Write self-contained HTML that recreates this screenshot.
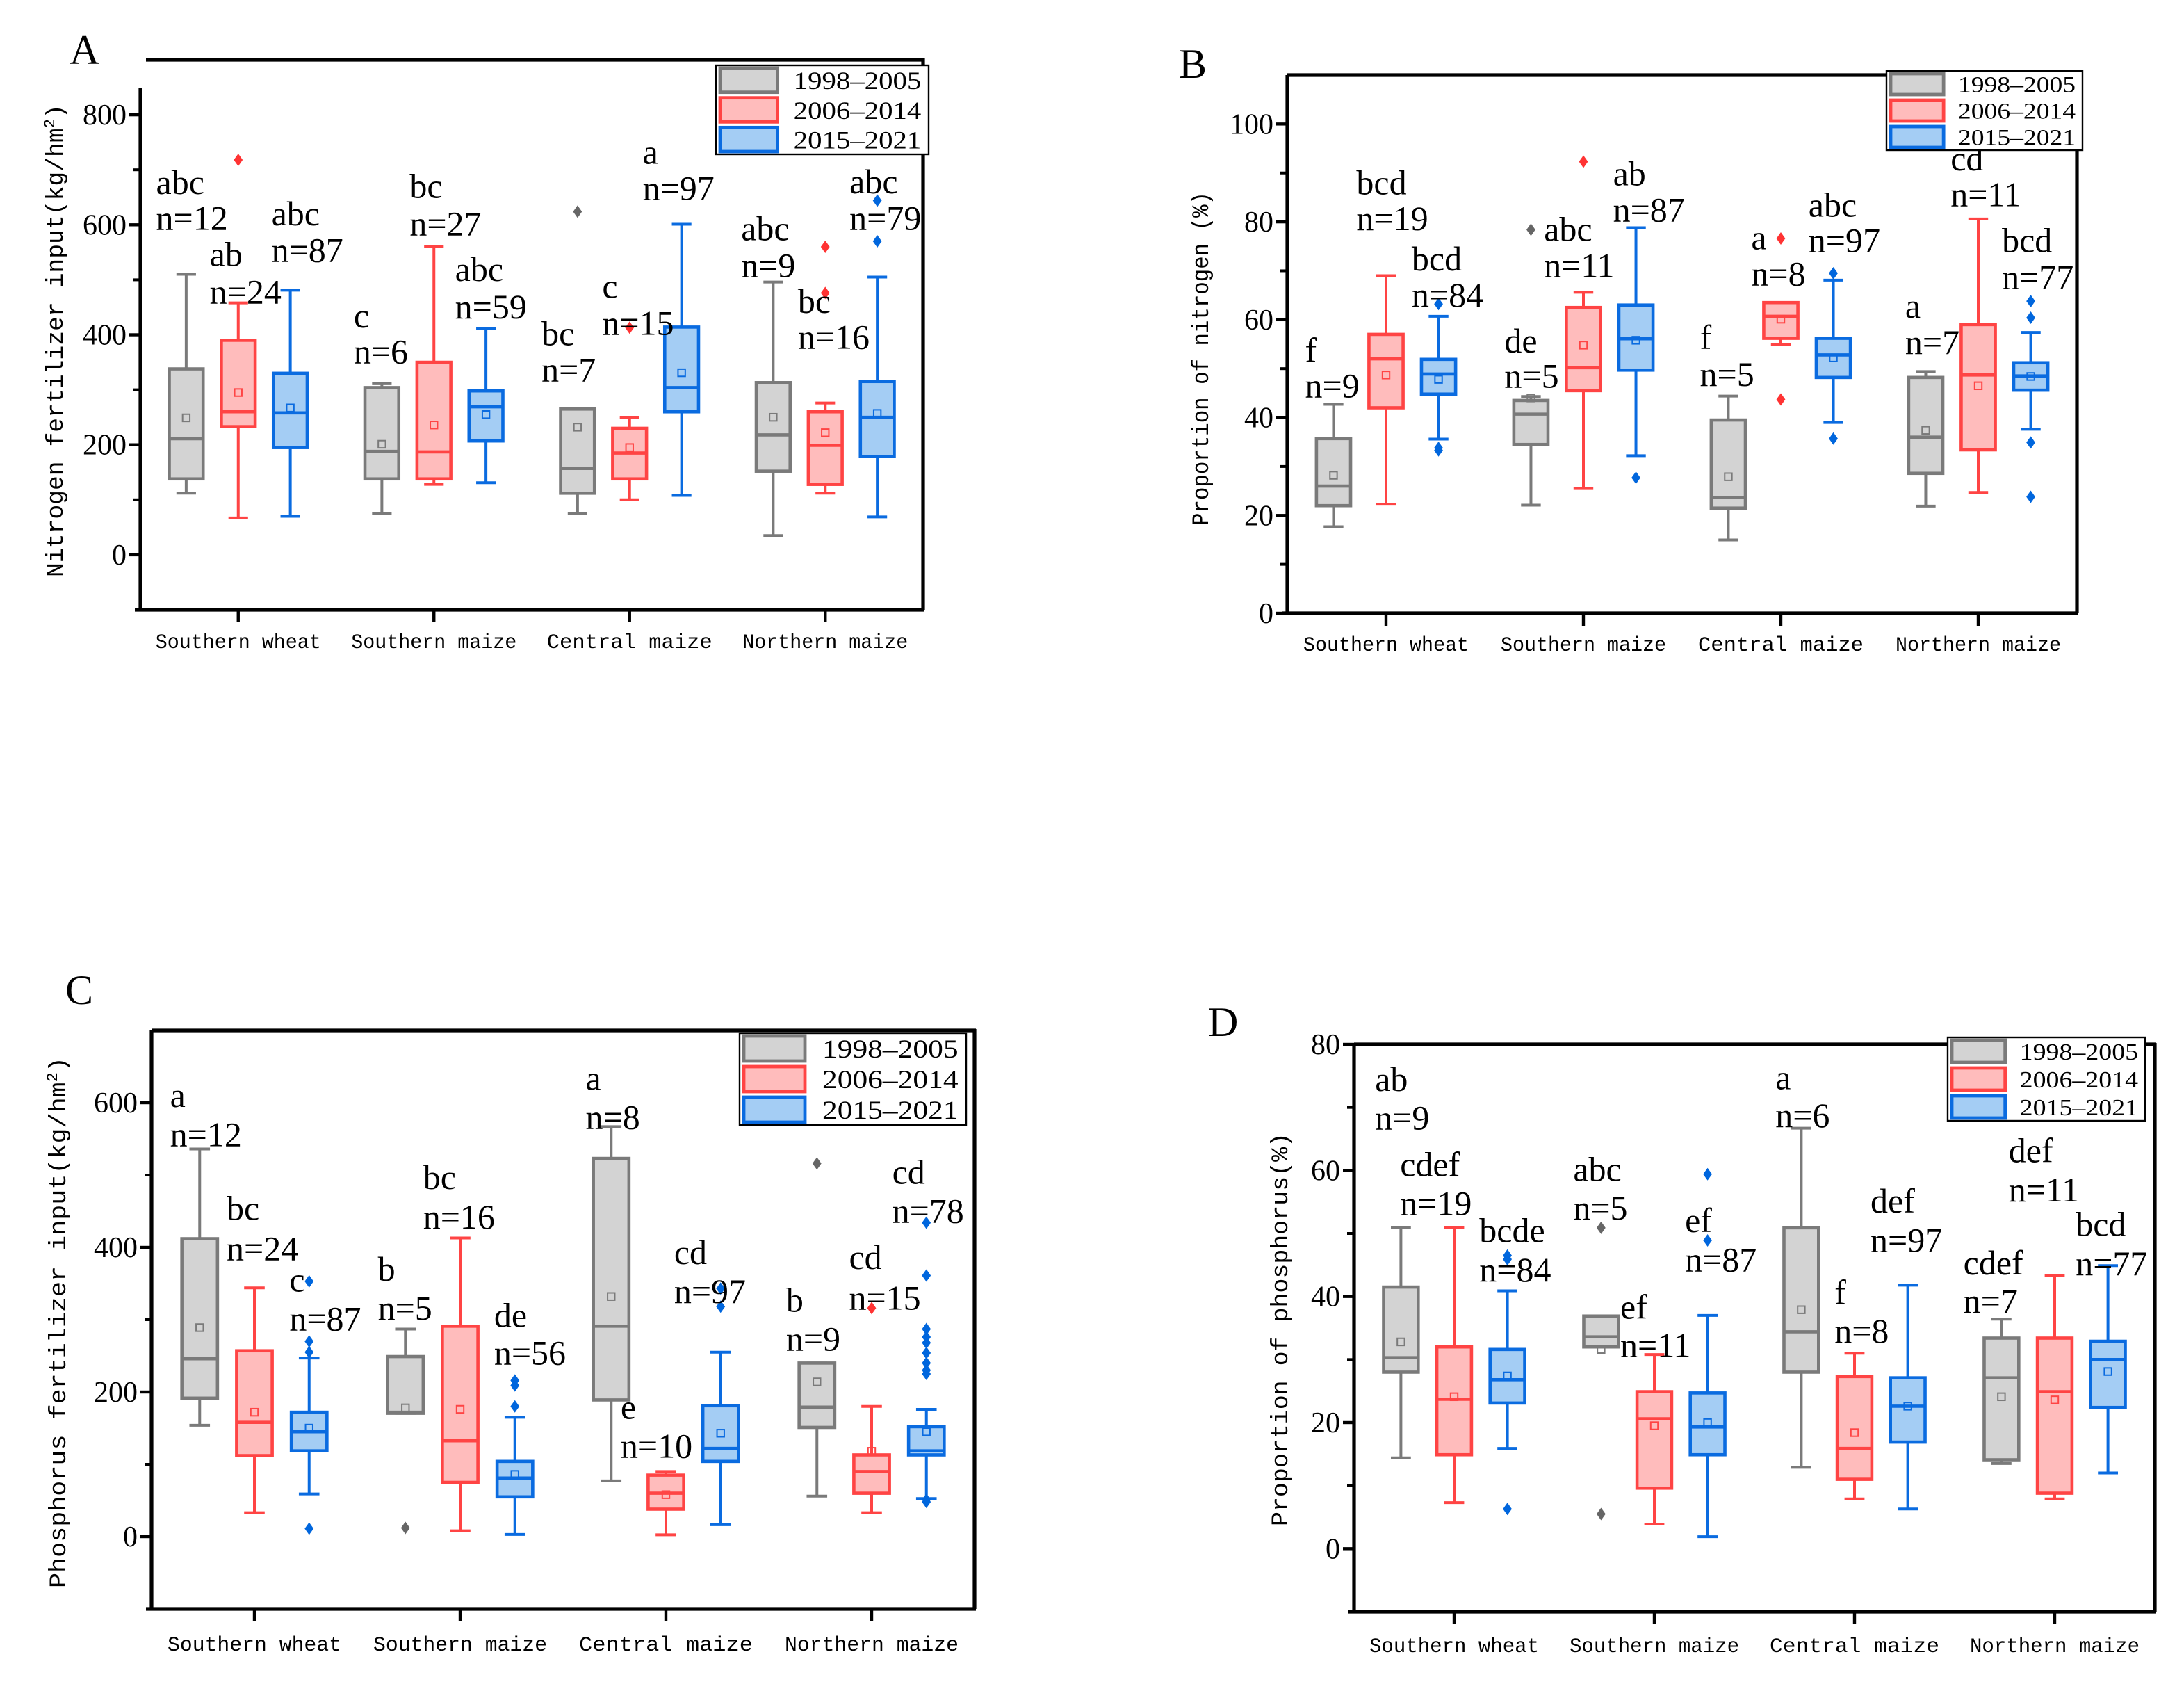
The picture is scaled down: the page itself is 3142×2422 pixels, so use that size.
<!DOCTYPE html>
<html><head><meta charset="utf-8"><style>
html,body{margin:0;padding:0;background:#fff;}
svg{display:block;}
text{font-family:"Liberation Serif",serif;fill:#000;}
.mono{font-family:"Liberation Mono",monospace;}
</style></head><body>
<svg id="fig" xmlns="http://www.w3.org/2000/svg" width="3142" height="2422" viewBox="0 0 1571 1211">
<rect x="0" y="0" width="1571" height="1211" fill="#fff"/>
</svg>
<script>
// ---------- data ----------
const categories = ["Southern wheat","Southern maize","Central maize","Northern maize"];
const seriesNames = ["1998-2005","2006-2014","2015-2021"];
// stats rows: [min, q1, median, q3, max, mean]
const A_gray = [[112,138,211,338,510,249],[75,138,188,304,311,201],[75,112,157,265,265,232],[35,152,218,313,496,250]];
const A_red  = [[67,233,260,390,458,295],[128,138,187,350,561,236],[100,138,185,230,249,195],[112,128,199,260,276,222]];
const A_blue = [[70,195,258,330,481,267],[131,207,269,298,411,255],[108,260,304,414,601,331],[69,179,250,315,505,257]];
const A_grayOut = [[],[],[624],[]];
const A_redOut  = [[718],[],[413],[560,476]];
const A_blueOut = [[],[],[],[644,570]];
const A_letters = ["abc","ab","abc","c","bc","abc","bc","c","a","abc","bc","abc"];
const A_counts  = [12,24,87,6,27,59,7,15,97,9,16,79];
const A_labelDx = [-0.42,-0.146,0.17,-0.41,-0.124,0.108,-0.45,-0.14,0.067,-0.43,-0.14,0.124];
const A_letterY = [656,525,599,413,649,498,381,467,711,572,440,657];
const A_countY  = [591,457,533,348,581,430,315,400,645,505,375,591];
const A_ticks = [0,200,400,600,800];
const A_minor = [100,300,500,700];

const B_gray = [[17.7,22,26,35.7,42.7,28.2],[22.1,34.5,40.7,43.5,44.3,44],[15,21.5,23.7,39.5,44.4,27.9],[21.9,28.6,36,48.2,49.4,37.4]];
const B_red  = [[22.3,42,52,57,69,48.7],[25.5,45.5,50.2,62.5,65.6,54.8],[55,56.2,60.7,63.5,63.5,60.1],[24.7,33.4,48.7,59,80.6,46.5]];
const B_blue = [[35.6,44.8,48.9,51.9,60.7,47.8],[32.2,49.7,56.1,63,78.8,55.8],[39,48.2,52.8,56.2,68.1,52.2],[37.6,45.6,48.5,51.2,57.4,48.4]];
const B_grayOut = [[],[78.4],[],[]];
const B_redOut  = [[],[92.3],[76.6,43.7],[]];
const B_blueOut = [[63.2,33.8,33.3],[27.7],[69.5,35.7],[63.8,60.4,34.9,23.8]];
const B_letters = ["f","bcd","bcd","de","abc","ab","f","a","abc","a","cd","bcd"];
const B_counts  = [9,19,84,5,11,87,5,8,97,7,11,77];
const B_labelDx = [-0.41,-0.15,0.13,-0.40,-0.2,0.15,-0.41,-0.15,0.14,-0.37,-0.14,0.12];
const B_letterY = [51.4,85.6,70.1,53.3,76.1,87.5,54,74.4,81.1,60.4,90.5,73.8];
const B_countY  = [44.1,78.3,62.7,46.1,68.7,80.1,46.5,67,73.8,53,83.2,66.3];
const B_ticks = [0,20,40,60,80,100];
const B_minor = [10,30,50,70,90];

const C_gray = [[154,191.5,246,412,536,289],[170.6,170.6,172,249,287,178],[77,189,291,523,567,332],[56,151,179,240,240,214]];
const C_red  = [[33,112,158,257,344,172],[8,75,132.5,291,413,176],[2.5,38,60,85,90,58],[33,60,90,113,180,118]];
const C_blue = [[59,118.6,145,172,247,150],[3,55,81,104,165,86],[16.5,104,122,181,255,143],[52.6,113,118.6,152,176,145]];
const C_grayOut = [[],[12],[],[516]];
const C_redOut  = [[],[],[],[316]];
const C_blueOut = [[353,270,255,11],[216,209,180],[343,318],[434,361,287,276,268,254,240,230,225,51,48]];
const C_letters = ["a","bc","c","b","bc","de","a","e","cd","b","cd","cd"];
const C_counts  = [12,24,87,5,16,56,8,10,97,9,15,78];
const C_labelDx = [-0.41,-0.135,0.17,-0.40,-0.18,0.165,-0.39,-0.22,0.04,-0.416,-0.11,0.1];
const C_letterY = [594,438,339,354,481,290,618,163,377,311,370,488];
const C_countY  = [540,382,285,300,426,238,564,109,323,257,314,434];
const C_ticks = [0,200,400,600];
const C_minor = [100,300,500];

const D_gray = [[14.4,28,30.3,41.5,50.9,32.8],[32,32,33.6,36.9,36.9,31.6],[12.9,28,34.4,50.9,66.7,37.9],[13.5,14.1,27.1,33.4,36.4,24.1]];
const D_red  = [[7.3,14.9,23.7,32,50.9,24.1],[3.9,9.6,20.6,24.9,30.8,19.5],[7.9,11,15.9,27.3,31,18.4],[7.9,8.8,24.9,33.4,43.3,23.6]];
const D_blue = [[15.9,23.1,26.8,31.6,40.9,27.4],[1.9,14.9,19.3,24.7,37,20],[6.3,16.9,22.6,27.1,41.8,22.6],[12,22.4,30,32.9,44.9,28.1]];
const D_grayOut = [[],[50.9,5.5],[],[]];
const D_redOut  = [[],[],[],[]];
const D_blueOut = [[46.5,45.9,6.3],[59.4,48.9],[],[]];
const D_letters = ["ab","cdef","bcde","abc","ef","ef","a","f","def","cdef","def","bcd"];
const D_counts  = [9,19,84,5,11,87,6,8,97,7,11,77];
const D_labelDx = [-0.395,-0.27,0.126,-0.405,-0.17,0.153,-0.395,-0.10,0.08,-0.456,-0.23,0.105];
const D_letterY = [72.6,59.1,48.6,58.3,36.5,50.2,72.9,38.8,53.3,43.5,61.3,49.6];
const D_countY  = [66.5,52.9,42.4,52.2,30.4,44,66.9,32.7,47.1,37.4,55.1,43.4];
const D_ticks = [0,20,40,60,80];
const D_minor = [10,30,50,70];

// ---------- drawing ----------
const NS = "http://www.w3.org/2000/svg";
const svg = document.getElementById("fig");
const STROKES = ["#7a7a7a","#ff4444","#0a6be0"];
const FILLS = ["#d3d3d3","#ffbcbc","#a4cdf4"];
const OUTC = ["#666666","#ff3333","#0066dd"];
function mk(tag, attrs, parent){
  const e = document.createElementNS(NS, tag);
  for (const k in attrs) e.setAttribute(k, attrs[k]);
  (parent||svg).appendChild(e);
  return e;
}

function drawPanel(P){
  const g = mk("g", {});
  
  
  const sp = (P.right - P.left) / 4;
  const sx = (i) => P.left + (i + 0.5) * sp;
  const sy = (v) => P.bottom - (v - P.ymin) / (P.ymax - P.ymin) * (P.bottom - P.top);

  // title
  const t = mk("text", {x:P.titleX, y:P.titleY, "font-size":30}, g);
  t.textContent = P.id;
  
  

  // axes
  const ax = mk("g", {stroke:"#000", "stroke-width":2.6, fill:"none"}, g);
  
  
  mk("line", {x1:P.left, y1:P.axisTop, x2:P.left, y2:P.bottom}, ax);
  mk("line", {x1:P.left-4, y1:P.bottom, x2:P.right+1, y2:P.bottom}, ax);
  mk("line", {x1:P.right, y1:P.top-1, x2:P.right, y2:P.bottom}, ax);
  mk("line", {x1:P.topStart, y1:P.top, x2:P.right+1, y2:P.top}, ax);

  // y ticks
  P.ticks.forEach(v => {
    const y = sy(v);
    mk("line", {x1:P.left-8, y1:y, x2:P.left, y2:y, stroke:"#000","stroke-width":2.2}, g);
    const tl = mk("text", {x:P.left-10, y:y+7, "font-size":21, "text-anchor":"end"}, g);
    tl.textContent = v;
    
    
  });
  P.minor.forEach(v => {
    const y = sy(v);
    mk("line", {x1:P.left-5, y1:y, x2:P.left, y2:y, stroke:"#000","stroke-width":2}, g);
  });

  // x ticks + labels
  categories.forEach((c, i) => {
    const x = sx(i);
    mk("line", {x1:x, y1:P.bottom, x2:x, y2:P.bottom+9, stroke:"#000","stroke-width":2.2}, g);
    const xl = mk("text", {x:x, y:P.xlabY, "font-size":15, "text-anchor":"middle", "class":"mono", textLength:P.xlabW, lengthAdjust:"spacingAndGlyphs"}, g);
    xl.textContent = c;
    
    
  });

  // y title
  const yt = mk("text", {x:0, y:0, "font-size":17, "class":"mono", "text-anchor":"middle",
    transform:"translate(" + P.ytX + "," + P.ytY + ") rotate(-90)", textLength:P.ytLen, lengthAdjust:"spacingAndGlyphs"}, g);
  
  
  if (P.ytSup){
    const a = mk("tspan", {}, yt); a.textContent = P.ytText;
    const s = mk("tspan", {"baseline-shift":"super","font-size":11}, yt); s.textContent = "2";
    const b = mk("tspan", {}, yt); b.textContent = ")";
  } else {
    yt.textContent = P.ytText;
  }

  // boxes
  const series = [P.gray, P.red, P.blue];
  const outs = [P.grayOut, P.redOut, P.blueOut];
  const offs = [-0.266, 0, 0.266];
  const bw = 0.173 * sp, cw = 0.05 * sp;
  series.forEach((ser, s) => {
    ser.forEach((st, i) => {
      const cx = sx(i + offs[s]);
      const bg = mk("g", {stroke:STROKES[s], fill:"none"}, g);
      
      
      const [mn, q1, md, q3, mx, mean] = st;
      mk("line", {x1:cx, y1:sy(mx), x2:cx, y2:sy(q3), "stroke-width":2}, bg);
      mk("line", {x1:cx, y1:sy(mn), x2:cx, y2:sy(q1), "stroke-width":2}, bg);
      mk("line", {x1:cx-cw, y1:sy(mx), x2:cx+cw, y2:sy(mx), "stroke-width":2}, bg);
      mk("line", {x1:cx-cw, y1:sy(mn), x2:cx+cw, y2:sy(mn), "stroke-width":2}, bg);
      mk("rect", {x:cx-bw/2, y:sy(q3), width:bw, height:Math.max(0.5, sy(q1)-sy(q3)), fill:FILLS[s], "stroke-width":2.3}, bg);
      mk("line", {x1:cx-bw/2, y1:sy(md), x2:cx+bw/2, y2:sy(md), "stroke-width":2.3}, bg);
      mk("rect", {x:cx-2.6, y:sy(mean)-2.6, width:5.2, height:5.2, "stroke-width":1}, bg);
      outs[s][i].forEach(v => {
        const y = sy(v);
        const d = mk("path", {d:"M"+cx+" "+(y-4.5)+" L"+(cx+3.2)+" "+y+" L"+cx+" "+(y+4.5)+" L"+(cx-3.2)+" "+y+" Z", fill:OUTC[s], stroke:"none"}, g);
        
        
      });
    });
  });

  // significance labels
  P.letters.forEach((L, k) => {
    const i = Math.floor(k / 3);
    const x = sx(i) + P.labelDx[k] * sp;
    const t1 = mk("text", {x:x, y:sy(P.letterY[k]), "font-size":25}, g);
    t1.textContent = L;
    
    
    const t2 = mk("text", {x:x, y:sy(P.countY[k]), "font-size":25}, g);
    t2.textContent = "n=" + P.counts[k];
    
    
  });

  // legend
  const [lx, ly, lw, lh] = P.legend;
  const lg = mk("g", {}, g);
  
  
  mk("rect", {x:lx, y:ly, width:lw, height:lh, fill:"#fff", stroke:"#000", "stroke-width":1.2}, lg);
  const rh = lh / 3;
  seriesNames.forEach((nm, s) => {
    const ey = ly + s * rh;
    const e = mk("g", {}, lg);
    
    
    mk("rect", {x:lx+3, y:ey+2, width:lw*0.27, height:rh-4, fill:FILLS[s], stroke:STROKES[s], "stroke-width":2.4}, e);
    const tx = mk("text", {x:lx+lw*0.365, y:ey+rh*0.8, "font-size":rh*0.85, textLength:lw*0.6, lengthAdjust:"spacingAndGlyphs"}, e);
    tx.textContent = nm.replace("-", "\u2013");
  });
}

drawPanel({id:"A", left:101, right:664, top:43, bottom:438.5, axisTop:63, topStart:105, ymin:-100, ymax:900,
  ticks:A_ticks, minor:A_minor, gray:A_gray, red:A_red, blue:A_blue, grayOut:A_grayOut, redOut:A_redOut, blueOut:A_blueOut,
  letters:A_letters, counts:A_counts, labelDx:A_labelDx, letterY:A_letterY, countY:A_countY,
  titleX:50, titleY:46, xlabY:466, xlabW:119, ytX:45, ytY:245, ytLen:340, ytText:"Nitrogen fertilizer  input(kg/hm", ytSup:true,
  legend:[515,47,153,64]});
drawPanel({id:"B", left:926, right:1494, top:54, bottom:441, axisTop:54, topStart:926, ymin:0, ymax:110,
  ticks:B_ticks, minor:B_minor, gray:B_gray, red:B_red, blue:B_blue, grayOut:B_grayOut, redOut:B_redOut, blueOut:B_blueOut,
  letters:B_letters, counts:B_counts, labelDx:B_labelDx, letterY:B_letterY, countY:B_countY,
  titleX:848, titleY:56, xlabY:468, xlabW:119, ytX:869, ytY:258, ytLen:240, ytText:"Proportion of nitrogen  (%)", ytSup:false,
  legend:[1357,51,141,57]});
drawPanel({id:"C", left:109, right:701, top:741, bottom:1157, axisTop:741, topStart:109, ymin:-100, ymax:700,
  ticks:C_ticks, minor:C_minor, gray:C_gray, red:C_red, blue:C_blue, grayOut:C_grayOut, redOut:C_redOut, blueOut:C_blueOut,
  letters:C_letters, counts:C_counts, labelDx:C_labelDx, letterY:C_letterY, countY:C_countY,
  titleX:47, titleY:722, xlabY:1187, xlabW:125, ytX:47, ytY:951, ytLen:382, ytText:"Phosphorus fertilizer  input(kg/hm", ytSup:true,
  legend:[532,743,163,66]});
drawPanel({id:"D", left:974, right:1550, top:751, bottom:1159, axisTop:751, topStart:974, ymin:-10, ymax:80,
  ticks:D_ticks, minor:D_minor, gray:D_gray, red:D_red, blue:D_blue, grayOut:D_grayOut, redOut:D_redOut, blueOut:D_blueOut,
  letters:D_letters, counts:D_counts, labelDx:D_labelDx, letterY:D_letterY, countY:D_countY,
  titleX:869, titleY:745, xlabY:1188, xlabW:122, ytX:926, ytY:956, ytLen:283, ytText:"Proportion of phosphorus(%)", ytSup:false,
  legend:[1401,746,142,60]});
</script>
</body></html>
